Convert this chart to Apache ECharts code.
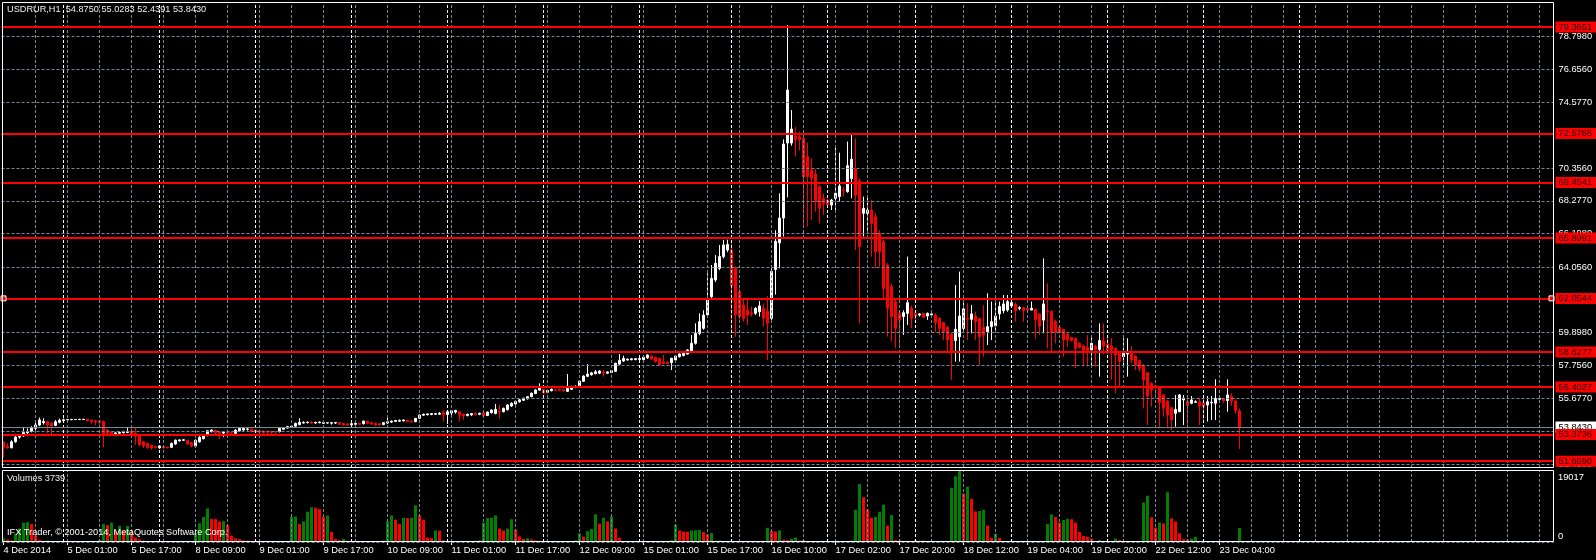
<!DOCTYPE html>
<html><head><meta charset="utf-8">
<script src="https://cdn.jsdelivr.net/npm/echarts@6/dist/echarts.min.js"></script>
<style>html,body{margin:0;padding:0;background:#000;}#c{width:1596px;height:560px;}</style>
</head><body><div id="c"></div>
<script>
const symbolName = 'USDRUR,H1';
const copyrightText = 'IFX Trader, \u00A9 2001-2014, MetaQuotes Software Corp.';
// candles: [open, close, low, high]
const c4dec = [[52.88,52.55,51.90,52.95],[52.62,52.52,52.45,52.80],[52.52,52.90,52.48,53.00],[52.90,53.20,52.85,53.30],[53.20,53.28,53.10,53.40],[53.28,53.50,53.22,53.85],[53.48,53.56,53.30,53.75],[53.56,53.76,53.50,53.90],[53.76,53.97,53.62,54.20],[53.97,54.30,53.90,54.45],[54.12,54.20,54.00,54.40],[54.18,53.98,53.45,54.25],[54.08,53.92,53.25,54.18],[53.95,54.18,53.90,54.30],[54.15,54.27,54.08,54.38]];
const c5dec = [[54.25,54.31,54.18,54.38],[54.30,54.32,54.26,54.36],[54.31,54.33,54.28,54.36],[54.32,54.33,54.29,54.35],[54.32,54.34,54.30,54.36],[54.33,54.34,54.30,54.36],[54.34,54.25,54.20,54.36],[54.28,54.20,54.05,54.32],[54.24,54.18,53.95,54.30],[54.22,54.15,54.00,54.30],[54.20,53.42,52.55,54.25],[53.65,53.45,53.28,53.70],[53.52,53.40,53.30,53.58],[53.42,53.47,53.38,53.52],[53.45,53.50,53.42,53.55],[53.48,53.53,53.44,53.60],[53.50,53.56,53.45,53.85],[53.55,53.35,53.28,53.92],[53.45,53.25,52.72,53.85],[53.27,52.72,52.60,53.30],[52.90,52.65,52.50,52.95],[52.80,52.55,52.45,52.85],[52.68,52.50,52.40,52.72],[52.60,52.55,52.48,52.65]];
const c8dec = [[52.52,52.63,52.45,52.70],[52.60,52.52,52.45,52.66],[52.55,52.51,52.48,52.58],[52.55,52.80,52.50,52.85],[52.76,53.00,52.70,53.05],[52.96,53.02,52.92,53.06],[53.00,53.03,52.96,53.08],[52.98,52.76,52.70,53.02],[52.85,52.63,52.55,52.88],[52.63,53.00,52.58,53.05],[52.90,53.19,52.85,53.25],[53.10,53.34,53.05,53.40],[53.30,53.60,53.25,53.65],[53.55,53.65,53.50,53.70],[53.62,53.50,53.40,53.68],[53.52,53.45,53.10,53.56],[53.46,53.52,53.20,53.58],[53.52,53.46,53.15,53.56],[53.50,53.44,53.30,53.55],[53.44,53.65,53.40,53.70],[53.60,53.76,53.55,53.80],[53.66,53.75,53.60,53.80],[53.70,53.72,53.62,53.78],[53.70,53.55,53.50,53.74]];
const c9dec = [[53.66,53.52,53.45,53.70],[53.60,53.52,53.35,53.64],[53.58,53.50,53.38,53.62],[53.57,53.52,53.35,53.60],[53.56,53.50,53.36,53.60],[53.55,53.52,53.40,53.58],[53.55,53.75,53.50,53.78],[53.70,53.78,53.66,53.82],[53.78,53.87,53.74,53.92],[53.85,53.90,53.80,53.95],[53.90,54.08,53.86,54.12],[54.00,54.14,53.95,54.40],[54.10,54.14,54.06,54.22],[54.12,54.15,54.08,54.20],[54.16,54.10,54.04,54.20],[54.10,54.14,54.05,54.18],[54.12,54.16,54.08,54.20],[54.08,54.12,54.04,54.16],[54.10,54.12,54.06,54.16],[54.09,54.12,54.00,54.15],[54.10,54.13,54.04,54.16],[54.12,54.02,53.98,54.14],[54.06,53.98,53.92,54.10],[54.04,53.98,53.90,54.08]];
const c10dec = [[53.98,54.06,53.95,54.10],[54.02,54.08,53.96,54.12],[54.08,54.02,53.98,54.12],[54.06,54.22,54.00,54.26],[54.20,54.08,54.02,54.25],[54.12,54.04,53.96,54.16],[54.08,53.98,53.92,54.12],[54.05,53.98,53.94,54.08],[54.00,54.12,53.96,54.16],[54.10,54.18,54.04,54.42],[54.16,54.22,54.10,54.26],[54.20,54.26,54.16,54.30],[54.22,54.27,54.18,54.32],[54.24,54.29,54.20,54.32],[54.28,54.20,54.16,54.30],[54.22,54.17,54.12,54.26],[54.19,54.40,54.15,54.42],[54.40,54.61,54.36,54.64],[54.60,54.66,54.55,54.70],[54.63,54.68,54.58,54.72],[54.64,54.70,54.60,54.74],[54.66,54.70,54.62,54.74],[54.66,54.72,54.62,54.80],[54.75,54.62,54.19,54.93]];
const c11dec = [[54.64,54.82,54.04,54.86],[54.74,54.88,54.60,54.92],[54.80,54.90,54.70,54.95],[54.82,54.60,54.19,54.86],[54.66,54.55,54.30,54.70],[54.58,54.66,54.52,54.70],[54.62,54.70,54.56,54.74],[54.70,54.64,54.58,54.80],[54.66,54.72,54.60,54.76],[54.75,54.56,54.50,54.78],[54.58,54.80,54.54,54.84],[54.76,54.93,54.70,54.96],[54.70,54.97,54.66,55.31],[54.84,54.80,54.40,55.25],[54.82,55.04,54.78,55.08],[54.95,55.25,54.90,55.30],[55.18,55.36,55.12,55.42],[55.32,55.48,55.28,55.52],[55.46,55.58,55.40,55.64],[55.55,55.68,55.50,55.72],[55.64,55.78,55.60,55.82],[55.78,56.00,55.74,56.05],[55.98,56.20,55.94,56.26],[56.20,56.42,56.15,56.63]];
const c12dec = [[56.25,56.00,55.95,56.30],[56.06,56.18,56.00,56.22],[56.16,56.25,56.12,56.30],[56.22,56.18,56.12,56.26],[56.24,56.18,56.14,56.28],[56.22,56.16,56.10,56.26],[56.12,56.30,56.08,57.23],[56.25,56.42,56.20,56.48],[56.38,56.45,56.32,56.50],[56.42,56.78,56.38,56.82],[56.76,57.10,56.72,57.14],[57.08,57.22,57.02,57.86],[57.18,57.30,57.12,57.36],[57.25,57.37,57.20,57.48],[57.28,57.42,57.22,57.46],[57.34,57.28,57.06,57.48],[57.28,57.36,57.22,57.40],[57.32,57.44,57.28,57.48],[57.40,57.91,57.36,57.95],[57.86,58.10,57.80,58.50],[58.05,58.23,58.00,58.40],[58.12,58.18,58.08,58.22],[58.14,58.20,58.10,58.24],[58.15,58.21,58.10,58.25]];
const c15dec = [[58.16,58.22,58.10,58.26],[58.14,58.30,58.10,58.34],[58.26,58.44,58.20,58.48],[58.38,58.17,58.12,58.42],[58.29,58.02,57.96,58.32],[58.23,57.80,57.75,58.26],[58.00,57.90,57.84,58.44],[57.98,57.90,57.84,58.04],[57.95,58.23,57.48,58.26],[58.12,58.38,58.08,58.42],[58.33,58.50,58.28,58.55],[58.40,58.55,58.36,58.60],[58.50,58.76,58.46,58.82],[58.66,59.19,58.60,59.72],[59.19,59.82,59.10,60.46],[59.82,60.57,59.70,61.10],[60.14,60.99,60.05,61.30],[61.00,61.95,60.90,63.65],[62.16,63.33,61.95,64.18],[63.23,64.29,63.10,64.82],[63.97,64.72,63.85,65.46],[64.72,65.46,64.60,65.78],[65.14,65.50,65.00,65.80]];
const c16dec = [[65.14,62.84,59.82,65.78],[63.97,61.00,59.61,64.10],[62.48,60.89,60.70,62.70],[61.63,60.78,60.57,61.95],[61.30,60.99,60.36,61.95],[61.12,61.05,60.89,61.52],[61.10,61.42,61.00,61.50],[61.20,61.57,60.89,61.88],[61.42,60.78,60.25,61.74],[61.21,60.46,58.12,62.20],[60.78,63.78,60.68,63.97],[63.90,65.70,62.30,66.40],[65.60,67.18,63.97,68.76],[67.18,71.90,66.00,72.20],[71.97,75.35,68.50,79.50],[71.97,72.86,71.80,74.07],[72.42,72.20,71.10,73.00],[72.37,72.20,71.50,72.70],[72.27,69.82,66.63,72.30],[71.10,69.82,66.63,72.00],[70.25,69.71,67.06,70.99],[69.99,68.23,67.59,70.30],[69.18,67.80,66.84,69.30],[68.44,68.12,67.38,68.76]];
const c17dec = [[68.33,68.01,67.90,68.40],[68.01,68.33,67.69,68.40],[68.44,68.76,67.59,71.74],[68.55,69.23,68.23,71.35],[68.97,68.90,68.55,69.18],[68.86,70.52,68.80,72.06],[69.71,70.93,68.44,72.48],[70.31,68.65,65.14,72.27],[69.55,65.35,60.46,69.70],[67.48,67.80,66.00,68.55],[67.48,67.69,66.20,68.65],[67.69,66.84,64.72,68.33],[67.27,65.04,63.97,67.50],[66.21,65.04,64.08,66.40],[65.67,62.69,62.05,65.80],[64.18,61.42,59.61,64.30],[62.80,60.89,59.29,63.00],[61.84,60.14,58.87,62.00],[61.10,60.68,59.08,61.30],[60.89,61.14,59.72,61.30],[61.10,61.78,60.36,64.72],[61.42,60.78,60.14,61.60]];
const c18dec = [[61.10,60.93,60.46,61.20],[60.99,61.06,60.90,61.12],[61.10,60.85,60.80,61.14],[60.93,61.10,60.68,61.15],[61.00,61.06,60.90,61.10],[60.99,60.50,59.93,61.10],[60.78,60.14,59.72,60.85],[60.50,59.93,59.40,60.55],[60.21,59.40,58.55,60.30],[59.78,58.65,56.85,59.85],[59.36,60.08,58.02,62.91],[59.61,60.93,58.02,63.76],[60.14,61.38,60.00,62.27],[60.78,60.72,59.40,61.74],[60.72,61.06,59.82,61.63],[60.93,60.57,59.40,61.20],[60.78,59.61,57.80,60.80],[60.21,59.72,58.33,61.63],[59.93,60.25,59.08,62.38],[60.25,60.57,59.40,61.85],[60.30,60.93,60.00,61.85],[61.06,61.53,60.70,61.85],[61.27,61.70,61.10,62.27],[61.31,61.85,61.20,62.27]];
const c19dec = [[61.57,61.78,61.50,61.85],[61.70,61.27,60.57,61.80],[61.42,61.46,61.30,61.55],[61.46,61.27,60.57,61.50],[61.42,61.31,61.25,61.50],[61.31,61.42,61.30,61.85],[61.36,60.67,59.51,61.40],[61.06,60.29,59.72,61.10],[60.67,61.70,59.82,64.61],[61.25,61.18,58.87,63.01],[61.21,59.87,58.65,61.30],[60.57,59.87,59.19,60.70],[60.21,59.87,59.80,60.30],[60.08,59.40,58.33,60.10],[59.78,59.40,58.97,59.85],[59.55,59.36,59.30,59.60],[59.51,58.87,57.59,59.55],[59.19,58.93,58.85,59.25],[59.02,58.72,57.80,59.10],[58.93,58.72,57.70,59.71],[58.76,59.19,57.80,59.71],[59.02,58.80,57.70,59.10],[58.80,59.36,57.06,60.46],[59.34,59.02,58.50,60.46]];
const c22dec = [[59.14,58.76,58.50,59.61],[59.02,58.76,56.85,59.51],[58.87,58.44,55.99,58.90],[58.55,58.02,56.42,58.60],[58.33,58.55,57.70,59.51],[58.50,58.55,57.06,59.51],[58.55,58.12,57.90,59.00],[58.38,57.80,57.48,58.45],[58.08,57.59,57.38,58.10],[57.80,56.85,55.04,57.85],[57.31,55.82,53.97,57.35],[56.63,56.21,55.14,56.70],[56.46,56.38,55.68,56.50],[56.42,55.40,53.76,56.45],[55.89,55.04,54.51,55.95],[55.51,54.61,53.76,55.55],[55.08,54.29,53.66,55.10],[54.72,54.97,53.87,55.89],[54.82,55.89,54.80,55.95],[55.57,55.68,53.97,55.89],[55.46,55.21,53.76,55.82],[55.36,55.57,55.30,55.82],[55.42,55.46,55.40,55.55],[55.46,55.19,53.97,55.72]];
const c23dec = [[55.40,55.14,54.19,55.82],[55.25,55.46,54.19,55.82],[55.38,55.42,54.30,55.82],[55.36,55.68,54.29,56.89],[55.61,55.68,55.50,55.75],[55.63,55.53,55.40,55.65],[55.53,55.89,54.82,56.89],[55.80,55.50,55.20,56.00],[55.50,54.90,54.70,55.60],[54.8750,53.8430,52.4391,55.0283]];

const v4dec = [1000,700,400,2200,3600,5200,5300,4800,1700,600,300,400,200,150,100];
const v5dec = [60,80,50,40,60,90,120,300,250,500,4800,4500,5200,3000,4300,3000,4300,2400,1200,700,400,200,150,100];
const v8dec = [80,60,100,70,50,90,60,150,300,2400,5000,6700,9000,6200,6100,5500,5600,4500,1700,1000,750,400,350,200];
const v9dec = [150,100,180,120,90,250,300,150,200,6700,6800,4800,5500,8100,9300,9200,8800,6700,7100,2700,800,500,800,300];
const v10dec = [150,100,80,60,120,90,150,200,400,5500,7100,6000,4800,6500,6400,6500,9800,7100,6000,1200,1000,3100,3000,400];
const v11dec = [200,150,100,80,120,90,200,300,450,5200,6400,6500,7100,3600,3100,3600,6100,3300,1500,800,1000,700,400,300];
const v12dec = [200,150,100,120,80,60,100,250,400,2300,1400,2900,3500,7400,4900,6500,5500,6800,3600,1100,300,200,150,100];
const v15dec = [80,60,90,120,100,150,200,300,500,4600,3100,2800,2750,3100,3150,3200,2700,2000,2400,300,400,200,150];
const v16dec = [100,80,120,100,60,90,150,200,300,3800,2900,2800,3100,600,500,800,1200,400,500,300,200,150,250,100];
const v17dec = [80,60,100,150,300,250,400,8600,15500,12000,8700,6500,6700,8100,10000,4400,7200,600,400,250,300,150];
const v18dec = [500,350,400,200,150,100,120,100,80,14500,17600,19017,13000,14800,11600,8200,8300,8600,4400,1100,2200,1100,300,200];
const v19dec = [150,100,80,60,90,120,200,300,250,4800,7400,6700,5200,5900,6200,6100,5200,2700,1650,1380,920,280,550,150];
const v22dec = [120,250,920,550,250,300,250,100,60,10570,12400,6620,3860,5240,4960,13330,6340,5510,2300,700,600,900,1400,150];
const v23dec = [120,80,100,60,90,70,100,80,120,3739];

const timeLabels = ['4 Dec 2014','5 Dec 01:00','5 Dec 17:00','8 Dec 09:00','9 Dec 01:00','9 Dec 17:00','10 Dec 09:00','11 Dec 01:00','11 Dec 17:00','12 Dec 09:00','15 Dec 01:00','15 Dec 17:00','16 Dec 10:00','17 Dec 02:00','17 Dec 20:00','18 Dec 12:00','19 Dec 04:00','19 Dec 20:00','22 Dec 12:00','23 Dec 04:00'];
const labelStep = 16;
const gridStep = 8;
const dayStarts = [15,39,63,87,111,135,159,182,206,228,252,276,300,324];
const priceGrid = [78.7980,76.6560,74.5770,72.4980,70.3560,68.2770,66.1980,64.0560,61.9770,59.8980,57.7560,55.6770,53.5980,51.4560];
const levels = [79.3651,72.5765,69.4541,65.8991,62.0544,58.6277,56.4027,53.3736,51.6590];
const selectedLevel = 62.0544;
const lastPrice = 53.8430;
const volMax = 19017;
const slotCount = 388;
const priceMin = 51.229, priceMax = 80.968;

const candles = [].concat(c4dec,c5dec,c8dec,c9dec,c10dec,c11dec,c12dec,c15dec,c16dec,c17dec,c18dec,c19dec,c22dec,c23dec);
const volumes = [].concat(v4dec,v5dec,v8dec,v9dec,v10dec,v11dec,v12dec,v15dec,v16dec,v17dec,v18dec,v19dec,v22dec,v23dec);
const lastBar = candles[candles.length-1];

const FONT = '"Liberation Sans", Arial, sans-serif';
const GRAY = '#778899';
const cats = Array.from({length: slotCount}, (_, i) => String(i));
const grayX = []; for (let i = gridStep; i < slotCount; i += gridStep) grayX.push(i);

const vLines = (color) => (idx) => ({xAxis: idx, lineStyle: {color, type: [3, 2], width: 1}});
const vertLines = grayX.map(vLines(GRAY)).concat(dayStarts.map(vLines('#ffffff')));

const volData = volumes.map((v, i) => ({value: v, itemStyle: {color: (i === 0 || v > volumes[i-1]) ? '#008000' : '#ff0000'}}));

const chart = echarts.init(document.getElementById('c'), null, {renderer: 'canvas'});
chart.setOption({
  backgroundColor: '#000',
  animation: false,
  grid: [
    {left: 1.5, top: 2, width: 1552, height: 466},
    {left: 1.5, top: 471, width: 1552, height: 71}
  ],
  xAxis: [
    {type: 'category', gridIndex: 0, data: cats, boundaryGap: true, show: false},
    {type: 'category', gridIndex: 1, data: cats, boundaryGap: true,
      axisLine: {show: false},
      axisTick: {show: true, alignWithLabel: true, length: 3, lineStyle: {color: '#fff'},
        interval: (i) => i % labelStep === 0 && i / labelStep < timeLabels.length},
      axisLabel: {show: true, align: 'left', margin: 4, color: '#fff', fontFamily: FONT, fontSize: 9.3,
        interval: (i) => i % labelStep === 0 && i / labelStep < timeLabels.length,
        formatter: (v, i) => timeLabels[i / labelStep] || ''},
      splitLine: {show: false}}
  ],
  yAxis: [
    {type: 'value', gridIndex: 0, min: priceMin, max: priceMax, show: false, splitLine: {show: false}},
    {type: 'value', gridIndex: 1, min: 0, max: volMax, show: false, splitLine: {show: false}}
  ],
  series: [
    {type: 'line', xAxisIndex: 0, yAxisIndex: 0, data: [], z: 1, silent: true,
      markLine: {silent: true, symbol: 'none', animation: false,
        data: priceGrid.map(v => ({yAxis: v, lineStyle: {color: GRAY, type: [3, 2], width: 1},
          label: {show: true, position: 'end', distance: 5, formatter: v.toFixed(4), color: '#fff', fontFamily: FONT, fontSize: 9.3}}))
          .concat(vertLines.map(d => Object.assign({label: {show: false}}, d)))}},
    {type: 'line', xAxisIndex: 1, yAxisIndex: 1, data: [], z: 1, silent: true,
      markLine: {silent: true, symbol: 'none', animation: false,
        data: [{yAxis: 0, lineStyle: {color: GRAY, type: [3, 2], width: 1}, label: {show: false}}]
          .concat(vertLines.map(d => Object.assign({label: {show: false}}, d)))}},
    {type: 'candlestick', name: symbolName, xAxisIndex: 0, yAxisIndex: 0, data: candles, z: 3,
      barWidth: 2, clip: false,
      itemStyle: {color: '#ffffff', color0: '#ff0000', borderColor: '#ffffff', borderColor0: '#ff0000', borderWidth: 1}},
    {type: 'line', xAxisIndex: 0, yAxisIndex: 0, data: [], z: 4, silent: true,
      markLine: {silent: true, symbol: 'none', animation: false,
        data: [{yAxis: lastPrice, lineStyle: {color: GRAY, type: 'solid', width: 1},
          label: {show: true, position: 'end', distance: 2, formatter: lastPrice.toFixed(4), color: '#000', backgroundColor: '#fff',
            padding: [0, 4, 0, 3], lineHeight: 11, fontFamily: FONT, fontSize: 9.3}}]}},
    {type: 'line', xAxisIndex: 0, yAxisIndex: 0, data: [], z: 5, silent: true,
      markLine: {silent: true, symbol: 'none', animation: false,
        data: levels.map(v => ({yAxis: v, lineStyle: {color: '#ff0000', type: 'solid', width: 2},
          label: {show: true, position: 'end', distance: 2, formatter: v.toFixed(4), color: '#200000', backgroundColor: '#ff0000',
            padding: [0, 4, 0, 3], lineHeight: 11, fontFamily: FONT, fontSize: 9.3}}))},
      markPoint: {silent: true, symbol: 'rect', symbolSize: 5, animation: false, label: {show: false},
        itemStyle: {color: '#ff0000', borderColor: '#ffffff', borderWidth: 1},
        data: [{coord: [0, selectedLevel]}, {coord: [slotCount - 1, selectedLevel]}]}},
    {type: 'bar', xAxisIndex: 1, yAxisIndex: 1, data: volData, barWidth: 3, z: 3, silent: true}
  ],
  graphic: [
    {type: 'rect', z: 100, silent: true, shape: {x: 2.5, y: 2.5, width: 1551, height: 465}, style: {fill: 'none', stroke: '#fff', lineWidth: 1}},
    {type: 'rect', z: 100, silent: true, shape: {x: 2.5, y: 470.5, width: 1551, height: 71}, style: {fill: 'none', stroke: '#fff', lineWidth: 1}},
    {type: 'text', z: 100, x: 7, y: 5, style: {text: symbolName + '  ' + lastBar[0].toFixed(4) + ' ' + lastBar[3].toFixed(4) + ' ' + lastBar[2].toFixed(4) + ' ' + lastBar[1].toFixed(4),
      fill: '#f0f0f0', font: '9.2px ' + FONT, verticalAlign: 'top', align: 'left'}},
    {type: 'text', z: 100, x: 7, y: 474, style: {text: 'Volumes ' + volumes[volumes.length-1], fill: '#f0f0f0', font: '9.2px ' + FONT, verticalAlign: 'top'}},
    {type: 'text', z: 100, x: 7, y: 528, style: {text: copyrightText, fill: '#ffffff', font: '9.2px ' + FONT, verticalAlign: 'top'}},
    {type: 'text', z: 100, x: 1558, y: 477, style: {text: String(volMax), fill: '#fff', font: '9.3px ' + FONT, verticalAlign: 'middle'}},
    {type: 'text', z: 100, x: 1558, y: 536, style: {text: '0', fill: '#fff', font: '9.3px ' + FONT, verticalAlign: 'middle'}}
  ]
});
</script></body></html>
